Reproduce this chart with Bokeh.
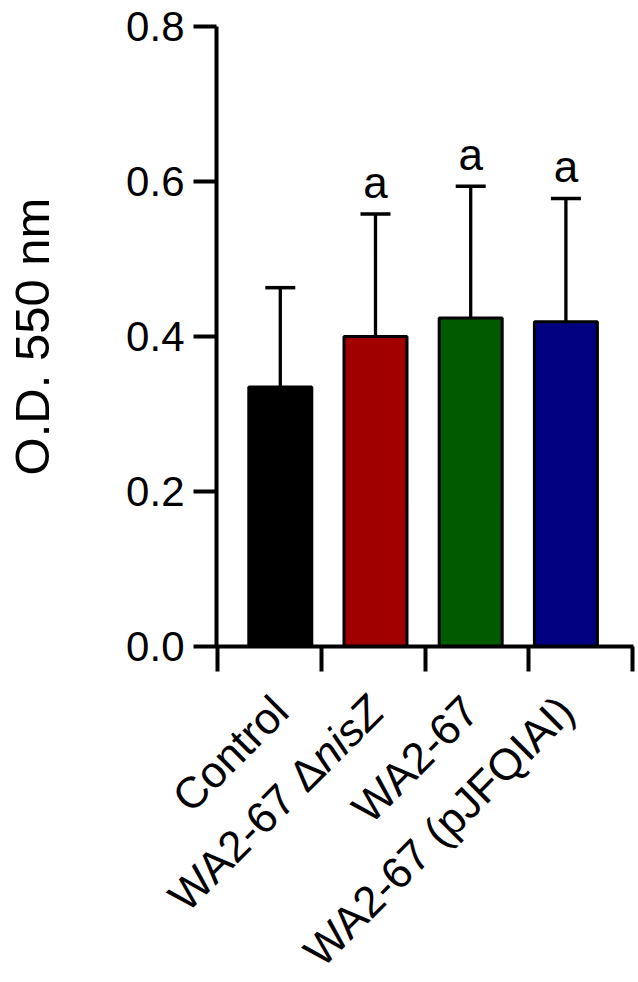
import math
from bokeh.plotting import figure
from bokeh.models import (FixedTicker, Range1d, PrintfTickFormatter,
                          ColumnDataSource, CustomJSTickFormatter)
from bokeh.core.properties import value
from bokeh.embed import file_html
from bokeh.resources import INLINE

# ---- data ----
groups_plain = ["Control", "WA2-67 \u0394", "WA2-67", "WA2-67 (pJFQIAI)"]
groups_italic = ["", "nisZ", "", ""]
means = [0.335, 0.400, 0.424, 0.419]
sd = [0.128, 0.158, 0.170, 0.159]
colors = ["#000000", "#A00000", "#005A00", "#000080"]
letters = ["", "a", "a", "a"]
y_ticks = [0.0, 0.2, 0.4, 0.6, 0.8]
x_boundary_ticks = [0.34, 1.43, 2.52, 3.61, 4.70]

# ---- layout constants ----
FONT = "Liberation Sans"
W = 636
LEFT, RIGHT, TOP, BOTTOM = 216, 3, 26, 36
FRAME_H = 620
X0, X1 = 0.33, 4.71
PX_X = (W - LEFT - RIGHT) / (X1 - X0)     # pixels per x unit
PX_Y = FRAME_H / 0.8                      # pixels per y unit
LABEL_H = 298
LABEL_DROP = 21          # px below top of label strip for label anchor
LSIZE = 44
LETTER_GAP = 32

xs = [i + 1 for i in range(len(means))]
tops = [m + s for m, s in zip(means, sd)]

p = figure(width=W, height=TOP + FRAME_H + BOTTOM, x_range=Range1d(X0, X1),
           y_range=Range1d(0, 0.8), output_backend="svg", toolbar_location=None,
           min_border_left=LEFT, min_border_right=RIGHT, min_border_top=TOP,
           min_border_bottom=BOTTOM)
p.outline_line_color = None
p.xgrid.grid_line_color = None
p.ygrid.grid_line_color = None

# y axis
ya = p.yaxis[0]
ya.ticker = FixedTicker(ticks=y_ticks)
ya.formatter = PrintfTickFormatter(format="%.1f")
ya.major_tick_out = 23
ya.major_tick_in = 0
ya.minor_tick_line_color = None
ya.axis_line_width = 4
ya.major_tick_line_width = 4
ya.axis_line_color = "black"
ya.major_tick_line_color = "black"
ya.major_label_standoff = 9
ya.major_label_text_font = FONT
ya.major_label_text_font_size = "42px"
ya.major_label_text_color = "black"
ya.axis_label = "O.D. 550 nm"
ya.axis_label_text_font = FONT
ya.axis_label_text_font_size = "49px"
ya.axis_label_text_font_style = "normal"
ya.axis_label_text_color = "black"
ya.axis_label_standoff = 64

# x axis (ticks at group boundaries; category labels drawn below)
xa = p.xaxis[0]
xa.ticker = FixedTicker(ticks=x_boundary_ticks)
xa.formatter = CustomJSTickFormatter(code="return ''")
xa.major_tick_out = 25
xa.major_tick_in = 0
xa.minor_tick_line_color = None
xa.axis_line_width = 4
xa.major_tick_line_width = 4
xa.axis_line_color = "black"
xa.major_tick_line_color = "black"

# error bars
p.segment(x0=xs, y0=means, x1=xs, y1=tops, line_color="black", line_width=3.3)
cap = 15 / PX_X
p.segment(x0=[x - cap for x in xs], y0=tops, x1=[x + cap for x in xs], y1=tops,
          line_color="black", line_width=3.5)

# bars
p.vbar(x=xs, width=63 / PX_X, top=means, bottom=0, fill_color=colors,
       line_color="black", line_width=3)

# significance letters
lsrc = ColumnDataSource(dict(x=[x for x, l in zip(xs, letters) if l],
                             y=[t + LETTER_GAP / PX_Y for t, l in zip(tops, letters) if l],
                             t=[l for l in letters if l]))
p.text(x="x", y="y", text="t", source=lsrc, text_align="center", text_baseline="alphabetic",
       text_font=value(FONT), text_font_size="44px", text_color="black")

# ---- label strip below the axis (same x scale, full-width frame) ----
q = figure(width=W, height=LABEL_H,
           x_range=Range1d(X0 - LEFT / PX_X, X1 + RIGHT / PX_X),
           y_range=Range1d(-LABEL_H, 0),
           output_backend="svg", toolbar_location=None,
           min_border_left=0, min_border_right=0, min_border_top=0,
           min_border_bottom=0, x_axis_type=None, y_axis_type=None)
q.outline_line_color = None
q.xgrid.grid_line_color = None
q.ygrid.grid_line_color = None

ang = math.pi / 4
plain_x, plain_y, ital_x, ital_y, ital_t = [], [], [], [], []
for x, plain, ital in zip(xs, groups_plain, groups_italic):
    shift = 0.0
    if ital:
        ital_x.append(x)
        ital_y.append(-LABEL_DROP)
        ital_t.append(ital)
        shift = 1.889 * LSIZE / math.sqrt(2)
    plain_x.append(x - shift / PX_X)
    plain_y.append(-LABEL_DROP - shift)

q.text(x=plain_x, y=plain_y, text=groups_plain, angle=ang, text_align="right",
       text_baseline="middle", text_font=value(FONT), text_font_size=f"{LSIZE}px",
       text_color="black")
q.text(x=ital_x, y=ital_y, text=ital_t, angle=ang, text_align="right",
       text_baseline="middle", text_font=value(FONT), text_font_style="italic",
       text_font_size=f"{LSIZE}px", text_color="black")

open("out.html", "w").write(file_html([p, q], INLINE))
